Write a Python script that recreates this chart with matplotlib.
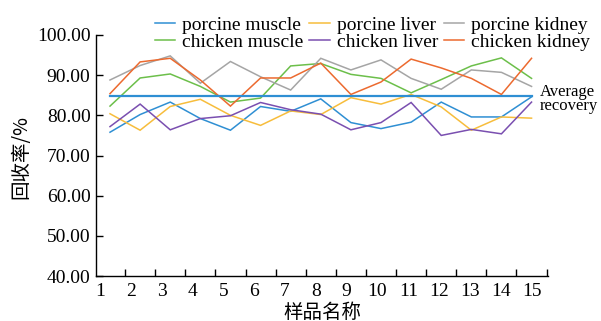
import numpy as np
import matplotlib
matplotlib.use("Agg")
import matplotlib.pyplot as plt
from matplotlib.lines import Line2D

# Recovery (%) for each of 15 samples
samples = list(range(1, 16))
porcine_muscle = [75.8, 80.2, 83.3, 79.2, 76.3, 82.2, 81.0, 84.1, 78.2, 76.7, 78.3, 83.3, 79.6, 79.6, 84.6]
porcine_liver = [80.4, 76.3, 82.2, 84.0, 80.0, 77.5, 81.1, 80.2, 84.4, 82.8, 85.2, 82.1, 76.3, 79.6, 79.3]
porcine_kidney = [88.8, 92.4, 94.8, 88.0, 93.4, 89.6, 86.3, 94.2, 91.3, 93.8, 89.2, 86.5, 91.3, 90.7, 87.2]
chicken_muscle = [82.3, 89.3, 90.3, 87.2, 83.3, 84.3, 92.3, 92.9, 90.2, 89.2, 85.6, 88.9, 92.3, 94.3, 89.2]
chicken_liver = [77.2, 82.8, 76.4, 79.2, 79.9, 83.2, 81.4, 80.3, 76.4, 78.2, 83.2, 75.0, 76.5, 75.4, 83.3]
chicken_kidney = [85.4, 93.3, 94.2, 88.8, 82.3, 89.3, 89.3, 93.0, 85.2, 88.3, 94.0, 91.8, 89.2, 85.2, 94.2]
average_recovery = 84.8

y_ticks = [40, 50, 60, 70, 80, 90, 100]
x_tick_labels = [str(s) for s in samples]

plt.rcParams["font.family"] = ["Liberation Serif", "DejaVu Serif"]
plt.rcParams["mathtext.fontset"] = "stix"

fig = plt.figure(figsize=(6.01, 3.21), dpi=100)
ax = fig.add_axes([0.16, 0.14, 0.752, 0.751])

series = [
    ("porcine muscle", porcine_muscle, "#2f8fd3"),
    ("chicken muscle", chicken_muscle, "#6cbf4a"),
    ("porcine liver", porcine_liver, "#f7bd3c"),
    ("chicken liver", chicken_liver, "#7a4fb0"),
    ("porcine kidney", porcine_kidney, "#a5a5a5"),
    ("chicken kidney", chicken_kidney, "#ec6a2f"),
]

for label, vals, color in series:
    ax.plot(samples, vals, color=color, lw=1.1, solid_joinstyle="miter")

ax.plot([samples[0], samples[-1]], [average_recovery] * 2, color="#2f8fd3", lw=1.6)

ax.set_xlim(0.54, 15.55)
ax.set_ylim(40, 100)
ax.set_yticks(y_ticks)
ax.set_yticklabels([f"{v:.2f}" for v in y_ticks], fontsize=14)

# Tick marks sit between samples; labels are placed separately
ax.set_xticks(np.arange(1.5, 16, 1.0))
ax.set_xticklabels([])
ax.set_xticks(np.linspace(0.67, 15.0, len(samples)), minor=True)
ax.set_xticklabels(x_tick_labels, minor=True, fontsize=14)
ax.tick_params(axis="x", which="major", direction="in", length=5, width=1)
ax.tick_params(axis="x", which="minor", length=0, pad=5)
ax.tick_params(axis="y", direction="in", length=5, width=1, pad=4)

for side in ("top", "right"):
    ax.spines[side].set_visible(False)
for side in ("left", "bottom"):
    ax.spines[side].set_linewidth(1.0)

ax.text(15.27, 84.1, "Average\nrecovery", fontsize=12, va="center", ha="left",
        linespacing=0.8, clip_on=False)

fig.text(0.034, 1 - 157 / 321, "回收率/%", rotation=90, va="center", ha="center",
         fontsize=14, fontweight="light", family=["Noto Sans CJK SC", "DejaVu Sans"])
fig.text(322 / 601, 1 - 312 / 321, "样品名称", va="center", ha="center",
         fontsize=14, fontweight="light", family=["Noto Sans CJK SC", "DejaVu Sans"])

handles = [Line2D([], [], color=c, lw=1.1) for _, _, c in series]
labels = [l for l, _, _ in series]
fig.legend(handles, labels, ncol=3, loc="upper left",
           bbox_to_anchor=(155 / 601, 1 - 16 / 321), frameon=False,
           fontsize=14, handlelength=1.05, handletextpad=0.35,
           columnspacing=0.3, labelspacing=0.0, borderpad=0, borderaxespad=0)

fig.savefig("out.png", dpi=100)
